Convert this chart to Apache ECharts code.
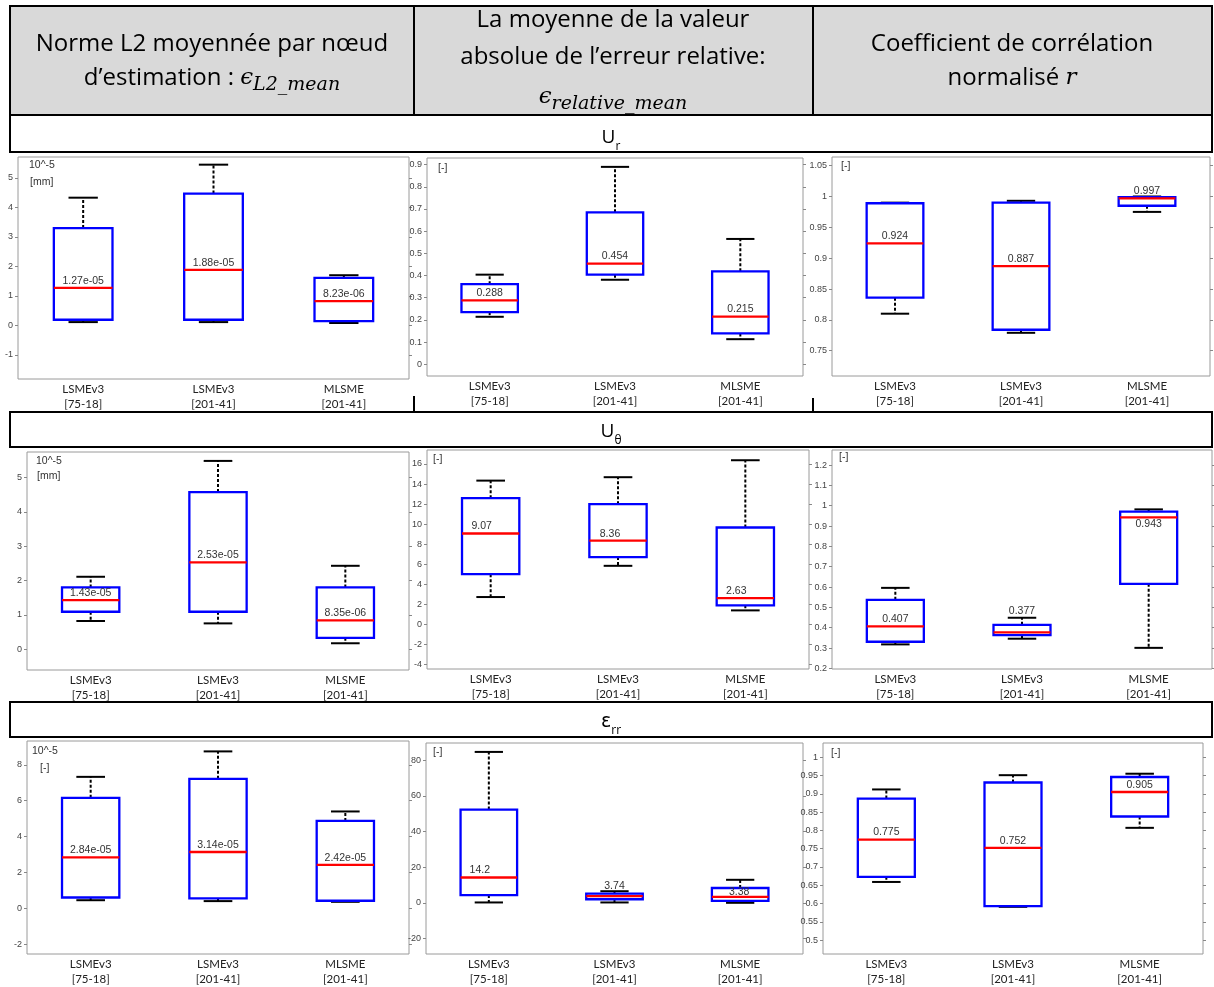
<!DOCTYPE html>
<html><head><meta charset="utf-8">
<script src="https://cdn.jsdelivr.net/npm/echarts@6/dist/echarts.min.js"></script>
<style>html,body{margin:0;padding:0;background:#fff}#c{width:1214px;height:987px}</style>
</head><body><div id="c"></div>
<script>
// ---------- DATA ----------
const categories = ['LSMEv3\n[75-18]', 'LSMEv3\n[201-41]', 'MLSME\n[201-41]'];
// each box: [whiskerLow, q1, median, q3, whiskerHigh]
// U_r
const ur_l2 = [[0.11, 0.19, 1.27, 3.30, 4.33], [0.11, 0.19, 1.88, 4.47, 5.45], [0.08, 0.14, 0.823, 1.61, 1.70]]; // x 1e-5 mm
const ur_l2_labels = ['1.27e-05', '1.88e-05', '8.23e-06'];
const ur_l2_ticks = [-1, 0, 1, 2, 3, 4, 5];
const ur_rel = [[0.214, 0.235, 0.288, 0.361, 0.404], [0.381, 0.404, 0.454, 0.685, 0.890], [0.113, 0.139, 0.215, 0.419, 0.565]];
const ur_rel_labels = ['0.288', '0.454', '0.215'];
const ur_rel_ticks = [0, 0.1, 0.2, 0.3, 0.4, 0.5, 0.6, 0.7, 0.8, 0.9];
const ur_r = [[0.810, 0.836, 0.924, 0.989, 0.990], [0.779, 0.784, 0.887, 0.990, 0.993], [0.975, 0.985, 0.997, 0.999, 1.000]];
const ur_r_labels = ['0.924', '0.887', '0.997'];
const ur_r_ticks = [0.75, 0.8, 0.85, 0.9, 0.95, 1, 1.05];
// U_theta
const ut_l2 = [[0.82, 1.09, 1.43, 1.80, 2.11], [0.75, 1.09, 2.53, 4.58, 5.49], [0.17, 0.33, 0.835, 1.80, 2.43]]; // x 1e-5 mm
const ut_l2_labels = ['1.43e-05', '2.53e-05', '8.35e-06'];
const ut_l2_ticks = [0, 1, 2, 3, 4, 5];
const ut_rel = [[2.74, 5.02, 9.07, 12.59, 14.34], [5.85, 6.72, 8.36, 11.99, 14.68], [1.41, 1.91, 2.63, 9.67, 16.37]];
const ut_rel_labels = ['9.07', '8.36', '2.63'];
const ut_rel_ticks = [-4, -2, 0, 2, 4, 6, 8, 10, 12, 14, 16];
const ut_r = [[0.318, 0.331, 0.407, 0.537, 0.596], [0.346, 0.364, 0.377, 0.414, 0.449], [0.301, 0.616, 0.943, 0.971, 0.982]];
const ut_r_labels = ['0.407', '0.377', '0.943'];
const ut_r_ticks = [0.2, 0.3, 0.4, 0.5, 0.6, 0.7, 0.8, 0.9, 1, 1.1, 1.2];
// eps_rr
const err_l2 = [[0.45, 0.60, 2.84, 6.16, 7.33], [0.40, 0.55, 3.14, 7.22, 8.75], [0.36, 0.42, 2.42, 4.87, 5.40]]; // x 1e-5
const err_l2_labels = ['2.84e-05', '3.14e-05', '2.42e-05'];
const err_l2_ticks = [-2, 0, 2, 4, 6, 8];
const err_rel = [[0.2, 4.36, 14.2, 52.3, 84.6], [0.2, 2.0, 3.74, 5.1, 6.5], [0.0, 1.1, 3.38, 8.3, 12.9]];
const err_rel_labels = ['14.2', '3.74', '3.38'];
const err_rel_ticks = [-20, 0, 20, 40, 60, 80];
const err_r = [[0.659, 0.673, 0.775, 0.887, 0.912], [0.591, 0.593, 0.752, 0.931, 0.951], [0.807, 0.838, 0.905, 0.946, 0.955]];
const err_r_labels = ['0.775', '0.752', '0.905'];
const err_r_ticks = [0.5, 0.55, 0.6, 0.65, 0.7, 0.75, 0.8, 0.85, 0.9, 0.95, 1];

// ---------- LAYOUT ----------
const panels = [
  { data: ur_l2, labels: ur_l2_labels, ticks: ur_l2_ticks, min: -1.82, max: 5.71, rect: [18, 157, 391, 222],
    units: [['10^-5', 11, 9], ['[mm]', 12, 26]] },
  { data: ur_rel, labels: ur_rel_labels, ticks: ur_rel_ticks, min: -0.053, max: 0.93, rect: [427, 158, 376, 218],
    units: [['[-]', 11, 11]] },
  { data: ur_r, labels: ur_r_labels, ticks: ur_r_ticks, min: 0.709, max: 1.064, rect: [832, 157, 378, 219],
    units: [['[-]', 9, 10]] },
  { data: ut_l2, labels: ut_l2_labels, ticks: ut_l2_ticks, min: -0.61, max: 5.75, rect: [27, 452, 382, 218],
    units: [['10^-5', 9, 10], ['[mm]', 10, 25]] },
  { data: ut_rel, labels: ut_rel_labels, ticks: ut_rel_ticks, min: -4.43, max: 17.39, rect: [427, 450, 382, 219],
    units: [['[-]', 6, 10]], labelDx: [-9, -8, -9] },
  { data: ut_r, labels: ut_r_labels, ticks: ut_r_ticks, min: 0.197, max: 1.274, rect: [832, 450, 380, 219],
    units: [['[-]', 7, 8]], labelDy: [-7, -21, 7] },
  { data: err_l2, labels: err_l2_labels, ticks: err_l2_ticks, min: -2.55, max: 9.33, rect: [27, 741, 382, 217],
    units: [['10^-5', 5, 11], ['[-]', 13, 28]] },
  { data: err_rel, labels: err_rel_labels, ticks: err_rel_ticks, min: -28.7, max: 89.6, rect: [426, 743, 377, 217],
    units: [['[-]', 7, 10]], labelDx: [-9, 0, -1], labelDy: [-7, -10, -5] },
  { data: err_r, labels: err_r_labels, ticks: err_r_ticks, min: 0.462, max: 1.039, rect: [823, 743, 380, 217],
    units: [['[-]', 8, 11]] }
];

const fmt = v => String(+(+v).toFixed(3));
const grid = [], xAxis = [], yAxis = [], series = [], graphic = [];

panels.forEach((p, k) => {
  const [l, t, w, h] = p.rect;
  grid.push({ left: l, top: t, width: w, height: h, show: true, borderColor: '#9a9a9a', borderWidth: 1, backgroundColor: '#fff' });
  xAxis.push({
    type: 'category', gridIndex: k, data: categories, boundaryGap: true,
    axisLine: { show: false }, axisTick: { show: false },
    axisLabel: { fontFamily: 'Lato', fontSize: 11.5, color: '#222', lineHeight: 15, margin: 3 }
  });
  yAxis.push({
    type: 'value', gridIndex: k, min: p.min, max: p.max, position: 'left',
    axisLine: { show: false }, splitLine: { show: false },
    axisTick: { show: true, length: 3, lineStyle: { color: '#888' }, customValues: p.ticks },
    axisLabel: { customValues: p.ticks, formatter: fmt, fontSize: 9, color: '#444', fontFamily: 'Liberation Sans', margin: 5 }
  });
  yAxis.push({
    type: 'value', gridIndex: k, min: p.min, max: p.max, position: 'right',
    axisLine: { show: false }, splitLine: { show: false },
    axisTick: { show: true, length: 3, lineStyle: { color: '#888' }, customValues: p.ticks },
    axisLabel: { show: false }
  });
  const labelDx = p.labelDx || [0, 0, 0];
  const labelDy = p.labelDy || [-7, -7, -7];
  series.push({
    type: 'custom', xAxisIndex: k, yAxisIndex: 2 * k, clip: false,
    encode: { x: 0, y: [1, 2, 3, 4, 5] },
    data: p.data.map((d, i) => [i].concat(d)),
    renderItem: function (params, api) {
      const i = api.value(0);
      const lo = api.coord([i, api.value(1)]);
      const q1 = api.coord([i, api.value(2)]);
      const md = api.coord([i, api.value(3)]);
      const q3 = api.coord([i, api.value(4)]);
      const hi = api.coord([i, api.value(5)]);
      const band = api.size([1, 0])[0];
      const bw = band * 0.45, cw = bw * 0.5;
      const x = md[0];
      const di = params.dataIndex;
      const dash = { stroke: '#000', lineWidth: 2, lineDash: [3, 2] };
      const solid = { stroke: '#000', lineWidth: 2 };
      return {
        type: 'group',
        children: [
          { type: 'line', shape: { x1: x, y1: q3[1], x2: x, y2: hi[1] }, style: dash },
          { type: 'line', shape: { x1: x, y1: q1[1], x2: x, y2: lo[1] }, style: dash },
          { type: 'line', shape: { x1: x - cw / 2, y1: hi[1], x2: x + cw / 2, y2: hi[1] }, style: solid },
          { type: 'line', shape: { x1: x - cw / 2, y1: lo[1], x2: x + cw / 2, y2: lo[1] }, style: solid },
          { type: 'rect', shape: { x: x - bw / 2, y: q3[1], width: bw, height: q1[1] - q3[1] },
            style: { fill: 'none', stroke: '#0000ff', lineWidth: 2.3 } },
          { type: 'line', shape: { x1: x - bw / 2, y1: md[1], x2: x + bw / 2, y2: md[1] },
            style: { stroke: '#ff0000', lineWidth: 2.3 } },
          { type: 'text', x: x + labelDx[di], y: md[1] + labelDy[di],
            style: { text: p.labels[di], align: 'center', verticalAlign: 'middle',
                     fontSize: 10.5, fontFamily: 'Liberation Sans', fill: '#333' } }
        ]
      };
    }
  });
  p.units.forEach(u => {
    graphic.push({ type: 'text', left: l + u[1], top: t + u[2] - 6, z: 10,
      style: { text: u[0], fontSize: 10.5, fontFamily: 'Liberation Sans', fill: '#333' } });
  });
});

// ---------- TABLE ----------
const B = { stroke: '#000', lineWidth: 2 };
const TX0 = 10, TX1 = 1212;
graphic.push({ type: 'rect', shape: { x: TX0, y: 6, width: TX1 - TX0, height: 109 }, style: { fill: '#d9d9d9', stroke: '#000', lineWidth: 2 }, z: 1 });
graphic.push({ type: 'line', shape: { x1: 414, y1: 6, x2: 414, y2: 115 }, style: B, z: 2 });
graphic.push({ type: 'line', shape: { x1: 813, y1: 6, x2: 813, y2: 115 }, style: B, z: 2 });
[[115, 152], [412, 447], [702, 737]].forEach(r => {
  graphic.push({ type: 'rect', shape: { x: TX0, y: r[0], width: TX1 - TX0, height: r[1] - r[0] }, style: { fill: '#fff', stroke: '#000', lineWidth: 2 }, z: 1 });
});
graphic.push({ type: 'line', shape: { x1: 414, y1: 396, x2: 414, y2: 412 }, style: B, z: 2 });
graphic.push({ type: 'line', shape: { x1: 813, y1: 398, x2: 813, y2: 412 }, style: B, z: 2 });

const HF = 'Open Sans';
const rich = {
  n: { fontSize: 24, fontFamily: HF, fill: '#000', lineHeight: 34 },
  e: { fontSize: 23, fontFamily: 'DejaVu Serif', fontStyle: 'italic', fill: '#000', lineHeight: 34 },
  s: { fontSize: 19, fontFamily: 'DejaVu Serif', fontStyle: 'italic', fill: '#000', lineHeight: 18, verticalAlign: 'bottom' },
  u: { fontSize: 19, fontFamily: HF, fill: '#000', lineHeight: 30 },
  us: { fontSize: 12, fontFamily: HF, fill: '#000', lineHeight: 20, verticalAlign: 'bottom' },
  ue: { fontSize: 19, fontFamily: 'DejaVu Sans', fill: '#000', lineHeight: 30 }
};
function htext(x, y, text) {
  graphic.push({ type: 'text', x: x, y: y, z: 5,
    style: { text: text, rich: rich, align: 'center', verticalAlign: 'middle', fontSize: 24, fontFamily: HF, fill: '#000' } });
}
htext(212, 44, '{n|Norme L2 moyennée par nœud}');
htext(212, 78, '{n|d’estimation : }{e|ϵ}{s|L2_mean}');
htext(613, 20, '{n|La moyenne de la valeur}');
htext(613, 57, '{n|absolue de l’erreur relative:}');
htext(613, 97, '{e|ϵ}{s|relative_mean}');
htext(1012, 44, '{n|Coefficient de corrélation}');
htext(1012, 78, '{n|normalisé }{e|r}');
htext(611, 138, '{u|U}{us|r}');
htext(611, 432, '{u|U}{us|θ}');
htext(611, 722, '{ue|ε}{us|rr}');

const chart = echarts.init(document.getElementById('c'), null, { renderer: 'canvas' });
chart.setOption({
  animation: false,
  backgroundColor: '#fff',
  grid, xAxis, yAxis, series, graphic
});
</script>
</body></html>
